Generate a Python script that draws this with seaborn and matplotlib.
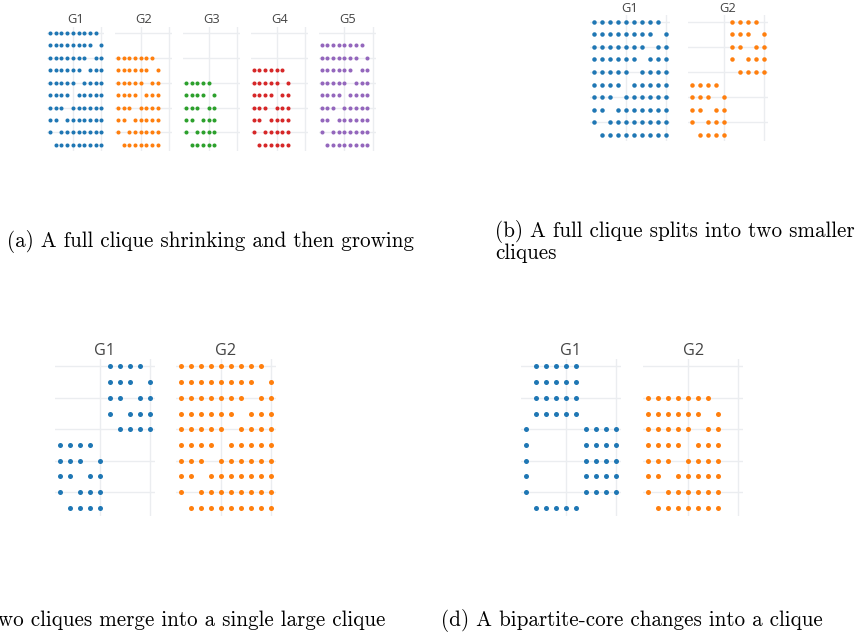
import matplotlib
matplotlib.use("Agg")
import matplotlib.pyplot as plt
import seaborn as sns
import pandas as pd

# ---------------- data ----------------
palette = ["#1f77b4", "#ff7f0e", "#2ca02c", "#d62728", "#9467bd"]

# (a) full clique shrinking then growing: number of nodes per snapshot
panel_a_titles = ["G1", "G2", "G3", "G4", "G5"]
panel_a_sizes = [10, 8, 6, 7, 9]

# (b) full clique splits into two smaller cliques
panel_b_titles = ["G1", "G2"]
panel_b_g1_cliques = [[1, 2, 3, 4, 5, 6, 7, 8, 9, 10]]
panel_b_g2_cliques = [[1, 2, 3, 4, 5], [6, 7, 8, 9, 10]]

# (c) two cliques merge into a single large clique
panel_c_titles = ["G1", "G2"]
panel_c_g1_cliques = [[1, 2, 3, 4, 5], [6, 7, 8, 9, 10]]
panel_c_g2_cliques = [[1, 2, 3, 4, 5, 6, 7, 8, 9, 10]]

# (d) bipartite core changes into a clique
panel_d_titles = ["G1", "G2"]
panel_d_g1_part_a = [1, 7, 8, 9, 10]
panel_d_g1_part_b = [2, 3, 4, 5, 6]
panel_d_g2_cliques = [[1, 2, 3, 4, 5, 6, 7, 8]]

captions = [
    "(a) A full clique shrinking and then growing",
    "(b) A full clique splits into two smaller\ncliques",
    "(c) Two cliques merge into a single large clique",
    "(d) A bipartite-core changes into a clique",
]

# ---------------- helpers ----------------
def clique_edges(cliques):
    rows = []
    for grp in cliques:
        for i in grp:
            for j in grp:
                if i != j:
                    rows.append((j, i))
    return pd.DataFrame(rows, columns=["col", "row"])


def bipartite_edges(a, b):
    rows = []
    for i in a:
        for j in b:
            rows.append((j, i))
            rows.append((i, j))
    return pd.DataFrame(rows, columns=["col", "row"])


W, H = 864, 634
fig = plt.figure(figsize=(W / 100, H / 100), dpi=100)
fig.patch.set_facecolor("white")


def px_axes(left, top, width, height):
    return fig.add_axes([left / W, 1 - (top + height) / H, width / W, height / H])


def draw(ax, df, color, size, title, title_size, title_base):
    ax.set_axisbelow(True)
    sns.scatterplot(data=df, x="col", y="row", ax=ax, color=color, s=size,
                    linewidth=0, legend=False)
    ax.set_xlim(0.5, 10.5)
    ax.set_ylim(0.5, 10.5)
    ax.set_xticks([5, 10])
    ax.set_yticks([2, 4, 6, 8, 10])
    ax.grid(True, color="#ebedf0", linewidth=1.0)
    ax.tick_params(length=0, labelbottom=False, labelleft=False)
    ax.set_xlabel("")
    ax.set_ylabel("")
    for sp in ax.spines.values():
        sp.set_visible(False)
    ax.set_facecolor("white")
    bb = ax.get_position()
    fig.text(bb.x0 + bb.width / 2, 1 - title_base / H, title, ha="center",
             va="baseline", fontsize=title_size, color="#444444",
             family="Open Sans")


# (a)
a_lefts = [47.2, 115.1, 183.0, 250.9, 318.8]
for k, (n, t) in enumerate(zip(panel_a_sizes, panel_a_titles)):
    ax = px_axes(a_lefts[k], 26.5, 57, 124.7)
    draw(ax, clique_edges([list(range(1, n + 1))]), palette[k], 8.5, t, 9.3, 23.3)

# (b)
b_lefts = [590, 687.7]
for k, cl in enumerate([panel_b_g1_cliques, panel_b_g2_cliques]):
    ax = px_axes(b_lefts[k], 15.4, 80, 125.9)
    draw(ax, clique_edges(cl), palette[k], 10.5, panel_b_titles[k], 9.3, 11.7)

# (c)
c_lefts = [55, 176]
for k, cl in enumerate([panel_c_g1_cliques, panel_c_g2_cliques]):
    ax = px_axes(c_lefts[k], 358.6, 100, 157)
    draw(ax, clique_edges(cl), palette[k], 13, panel_c_titles[k], 11.7, 355.3)

# (d)
d_lefts = [521, 643.3]
ax = px_axes(d_lefts[0], 358.6, 100, 157)
draw(ax, bipartite_edges(panel_d_g1_part_a, panel_d_g1_part_b), palette[0], 13,
     panel_d_titles[0], 11.7, 355.3)
ax = px_axes(d_lefts[1], 358.6, 100, 157)
draw(ax, clique_edges(panel_d_g2_cliques), palette[1], 13, panel_d_titles[1], 11.7, 355.3)

# captions
cap_kw = dict(family="cmr10", fontsize=15.2, color="black")
fig.text(7 / W, 1 - 241 / H, captions[0], ha="left", va="center", **cap_kw)
fig.text(495 / W, 1 - 241.5 / H, captions[1], ha="left", va="center",
         linespacing=1.0, **cap_kw)
fig.text(385 / W, 1 - 621 / H, captions[2], ha="right", va="center", **cap_kw)
fig.text(441 / W, 1 - 621 / H, captions[3], ha="left", va="center", **cap_kw)

fig.savefig("out.png", dpi=100, facecolor="white")
